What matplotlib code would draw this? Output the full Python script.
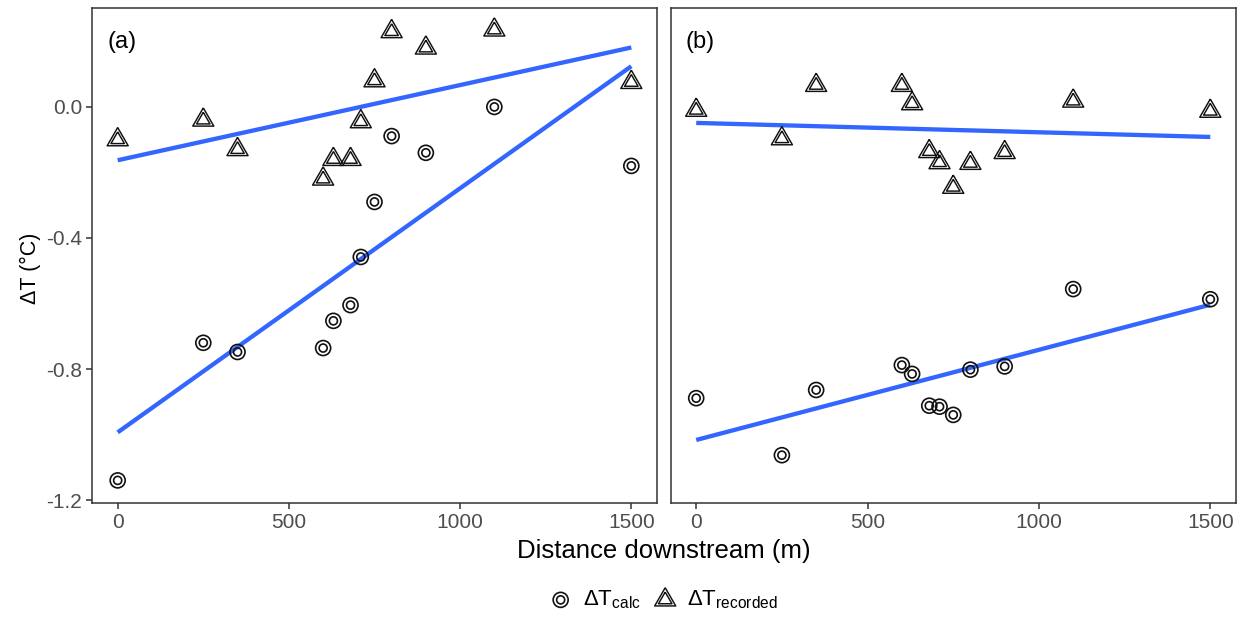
import numpy as np
import matplotlib
matplotlib.use("Agg")
import matplotlib.pyplot as plt
from matplotlib.legend_handler import HandlerTuple

plt.rcParams["font.family"] = ["Liberation Sans", "DejaVu Sans"]
plt.rcParams["mathtext.fontset"] = "custom"
plt.rcParams["mathtext.rm"] = "Liberation Sans"
plt.rcParams["mathtext.it"] = "Liberation Sans"

# Distance downstream of each sampling site (m)
distance = [0, 250, 350, 600, 630, 680, 710, 750, 800, 900, 1100, 1500]

# Panel (a)
calc_a = [-1.14, -0.72, -0.748, -0.736, -0.653, -0.605, -0.458, -0.29, -0.089, -0.14, 0.0, -0.18]
rec_a = [-0.10, -0.04, -0.13, -0.22, -0.16, -0.16, -0.045, 0.08, 0.23, 0.18, 0.235, 0.075]

# Panel (b)
calc_b = [-0.889, -1.063, -0.864, -0.788, -0.815, -0.912, -0.915, -0.94, -0.802, -0.792, -0.556, -0.587]
rec_b = [-0.01, -0.097, 0.066, 0.066, 0.01, -0.136, -0.17, -0.245, -0.172, -0.139, 0.018, -0.013]

panels = [("(a)", calc_a, rec_a), ("(b)", calc_b, rec_b)]

x_ticks = [0, 500, 1000, 1500]
y_ticks = [-1.2, -0.8, -0.4, 0.0]
y_tick_labels = ["-1.2", "-0.8", "-0.4", "0.0"]

W, H = 1247, 618
fig = plt.figure(figsize=(W / 100, H / 100), dpi=100)

# triangle marker centred on its centroid
tri = [(0.0, 1.0), (-0.866, -0.5), (0.866, -0.5), (0.0, 1.0)]

ink = "#111111"
line_blue = "#3366FF"
frames = [(92, 657), (670.5, 1236)]
top, bottom = 8, 503

handles = None
for i, ((label, calc, rec), (x0, x1)) in enumerate(zip(panels, frames)):
    ax = fig.add_axes([x0 / W, 1 - bottom / H, (x1 - x0) / W, (bottom - top) / H])
    x = np.array(distance, dtype=float)

    for yv in (calc, rec):
        k, b = np.polyfit(x, np.array(yv), 1)
        xs = np.array([x.min(), x.max()])
        ax.plot(xs, k * xs + b, color=line_blue, lw=3.1, solid_capstyle="butt", zorder=2)

    c_out = ax.scatter(x, calc, s=10.8 ** 2, marker="o", facecolors="none",
                       edgecolors=ink, linewidths=1.2, zorder=3)
    c_in = ax.scatter(x, calc, s=5.8 ** 2, marker="o", facecolors="none",
                      edgecolors=ink, linewidths=1.2, zorder=3)
    t_out = ax.scatter(x, rec, s=17.5 ** 2, marker=tri, facecolors="none",
                       edgecolors=ink, linewidths=1.05, zorder=3)
    t_in = ax.scatter(x, rec, s=11.2 ** 2, marker=tri, facecolors="none",
                      edgecolors=ink, linewidths=1.05, zorder=3)
    if handles is None:
        handles = [(c_out, c_in), (t_out, t_in)]

    ax.set_xlim(-75, 1575)
    ax.set_ylim(-1.209, 0.302)
    ax.set_xticks(x_ticks)
    ax.set_xticklabels([str(v) for v in x_ticks])
    ax.set_yticks(y_ticks)
    if i == 0:
        ax.set_yticklabels(y_tick_labels)
    else:
        ax.tick_params(axis="y", left=False, labelleft=False)

    ax.tick_params(axis="both", direction="out", length=4, width=1.1, color="#333333",
                   labelsize=15, labelcolor="#4D4D4D", pad=3)
    for sp in ax.spines.values():
        sp.set_color("#333333")
        sp.set_linewidth(1.1)
    ax.text(-30, 0.198, label, ha="left", va="center", fontsize=17, color="black")

fig.text(30 / W, 1 - 268 / H, "ΔT (°C)", rotation=90, ha="center", va="center",
         fontsize=15.5, color="black")

cx = ((frames[0][0] + frames[1][1]) / 2) / W
fig.text(cx, 1 - 551 / H, "Distance downstream (m)", ha="center", va="center",
         fontsize=18.5, color="black")

fig.legend(handles, [r"$\Delta\mathrm{T}_{\mathrm{calc}}$", r"$\Delta\mathrm{T}_{\mathrm{recorded}}$"],
           handler_map={tuple: HandlerTuple(ndivide=1)},
           loc="center", bbox_to_anchor=(cx, 1 - 600 / H), ncol=2, frameon=False,
           fontsize=16, handlelength=1.0, handletextpad=0.5, columnspacing=0.6,
           borderaxespad=0)

fig.savefig("out.png", dpi=100)
